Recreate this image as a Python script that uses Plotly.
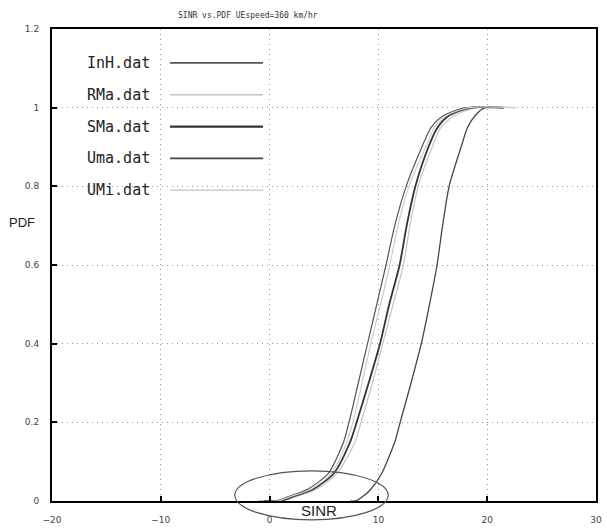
import plotly.graph_objects as go

# ---- data ----
series_names = ["InH.dat", "RMa.dat", "SMa.dat", "Uma.dat", "UMi.dat"]

pdf_levels = [0, 0, 0.01, 0.03, 0.07, 0.15, 0.2, 0.3, 0.4, 0.5, 0.6, 0.7, 0.8, 0.9, 0.95, 0.98, 1.0, 1.0]

sinr_inh = [-1.0, 0.6, 1.6, 3.5, 5.4, 6.8, 7.3, 8.15, 9.0, 9.85, 10.7, 11.5, 12.55, 14.0, 14.85, 16.0, 18.0, 21.5]
sinr_rma = [-0.3, 1.2, 2.3, 4.3, 6.2, 7.85, 8.4, 9.45, 10.4, 11.35, 12.3, 12.9, 13.65, 14.95, 15.75, 17.0, 19.0, 22.6]
sinr_sma = [-0.5, 1.0, 2.0, 4.0, 5.9, 7.4, 8.0, 9.1, 10.15, 11.0, 11.95, 12.6, 13.4, 14.6, 15.45, 16.5, 18.5, 21.5]
sinr_uma = [7.4, 7.9, 8.5, 9.3, 10.3, 11.5, 12.0, 13.0, 13.94, 14.7, 15.39, 15.9, 16.5, 17.6, 18.2, 18.9, 19.8, 21.5]
sinr_umi = [-0.8, 0.8, 1.8, 3.8, 5.7, 7.1, 7.65, 8.5, 9.3, 10.2, 11.05, 11.8, 12.8, 14.35, 15.15, 16.3, 18.3, 22.6]

x_ticks = [-20, -10, 0, 10, 20, 30]
y_ticks = [0, 0.2, 0.4, 0.6, 0.8, 1.0, 1.2]
y_tick_labels = ["0", "0.2", "0.4", "0.6", "0.8", "1", "1.2"]

# ---- style ----
colors = ["#555555", "#c4c4c4", "#333333", "#454545", "#cdcdcd"]
widths = [1.2, 1.2, 1.8, 1.3, 1.2]
series_x = [sinr_inh, sinr_rma, sinr_sma, sinr_uma, sinr_umi]

fig = go.Figure()
for name, xs, c, w in zip(series_names, series_x, colors, widths):
    fig.add_trace(go.Scatter(x=xs, y=pdf_levels, mode="lines", name=name,
                             line=dict(color=c, width=w, shape="spline", smoothing=0.7),
                             showlegend=False))

# gnuplot-style key: text on the left, sample line on the right
key_y0 = 1.114
key_dy = 0.081
for i, (name, c, w) in enumerate(zip(series_names, colors, widths)):
    yy = key_y0 - i * key_dy
    fig.add_annotation(x=-16.97, y=yy, xref="x", yref="y", text=name, showarrow=False,
                       xanchor="left", yanchor="middle",
                       font=dict(family="DejaVu Sans Mono", size=15, color="#222222"))
    fig.add_shape(type="line", xref="x", yref="y", x0=-9.15, x1=-0.6, y0=yy, y1=yy,
                  line=dict(color=c, width=w + 0.4))

# hand-drawn ellipse around the axis title
fig.add_shape(type="circle", xref="paper", yref="paper", x0=0.336, x1=0.618, y0=-0.04, y1=0.064,
              line=dict(color="#555555", width=1.2))
fig.add_annotation(x=0.491, y=-0.021, xref="paper", yref="paper", text="SINR", showarrow=False,
                   xanchor="center", yanchor="middle",
                   font=dict(family="Liberation Sans", size=15, color="#222222"))
fig.add_annotation(x=-0.055, y=0.59, xref="paper", yref="paper", text="PDF", showarrow=False,
                   xanchor="center", yanchor="middle",
                   font=dict(family="Liberation Sans", size=13, color="#222222"))
fig.add_annotation(x=0.3605, y=1.029, xref="paper", yref="paper",
                   text="SINR vs.PDF UEspeed=360 km/hr", showarrow=False,
                   xanchor="center", yanchor="middle",
                   font=dict(family="DejaVu Sans Mono", size=8, color="#333333"))

axis_common = dict(showline=True, linecolor="black", linewidth=2, mirror=True,
                   ticks="inside", ticklen=5, tickwidth=2, tickcolor="black",
                   showgrid=True, gridcolor="#999999", griddash="1px,4px", gridwidth=1,
                   zeroline=False, tickfont=dict(family="DejaVu Sans", size=9, color="#444444"))

fig.update_xaxes(range=[-20, 30], tickvals=x_ticks, ticklabelstandoff=9, **axis_common)
fig.update_yaxes(range=[0, 1.2], tickvals=y_ticks, ticktext=y_tick_labels,
                 ticklabelstandoff=9, **axis_common)

fig.update_layout(width=607, height=530, margin=dict(l=52, r=5, t=29, b=21),
                  plot_bgcolor="white", paper_bgcolor="white", showlegend=False)

fig.write_html("out.html", config={"displayModeBar": False},
               post_script="document.body.style.margin='0';document.body.style.overflow='hidden';")
